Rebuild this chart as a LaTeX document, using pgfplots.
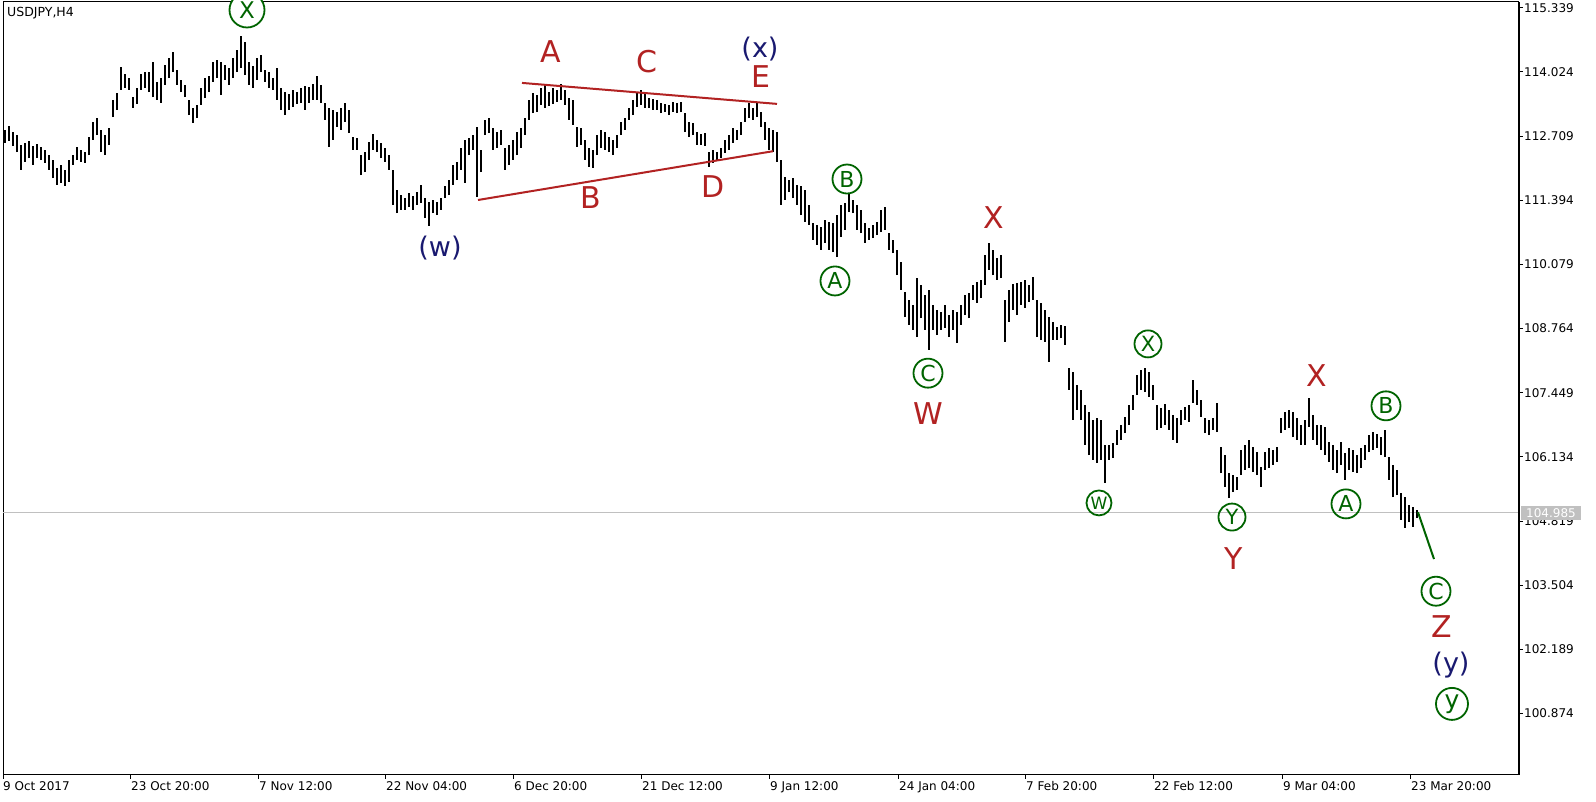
\documentclass[border=0pt]{standalone}
\usepackage{pgfplots}
\usepackage{pgfplotstable}
\pgfplotsset{compat=1.18}
\usetikzlibrary{backgrounds}
\usepackage{fontspec}
\setmainfont{DejaVu Sans}
\definecolor{wred}{RGB}{178,34,34}
\definecolor{wnavy}{RGB}{25,25,112}
\definecolor{wgreen}{RGB}{0,100,0}
\definecolor{pricegray}{RGB}{192,192,192}
\newcommand\tickfont{\fontsize{12}{14}\selectfont}
\newcommand\redfont{\fontsize{30}{30}\selectfont}
\newcommand\navyfont{\fontsize{27}{27}\selectfont}
\tikzset{
  circ/.style={circle, draw=wgreen, line width=1.8pt, text=wgreen, inner sep=0pt, minimum size=#1},
  rl/.style={text=wred, font=\redfont, inner sep=0pt},
  nl/.style={text=wnavy, font=\navyfont, inner sep=0pt},
}
\pgfplotstableread{
n lo hi
1 112.57 112.84
3 112.61 112.92
5 112.51 112.79
7 112.38 112.73
9 112.02 112.53
11 112.18 112.57
13 112.26 112.61
15 112.12 112.51
17 112.26 112.55
19 112.22 112.49
21 112.16 112.43
23 112.02 112.32
25 111.85 112.22
27 111.71 112.06
29 111.75 112.12
31 111.69 112.02
33 111.77 112.22
35 112.12 112.32
37 112.22 112.49
39 112.18 112.43
41 112.16 112.38
43 112.32 112.69
45 112.63 113.00
47 112.73 113.08
49 112.38 112.84
51 112.32 112.73
53 112.53 112.88
55 113.10 113.45
57 113.25 113.59
59 113.66 114.13
61 113.70 113.98
63 113.66 113.90
65 113.29 113.51
67 113.37 113.70
69 113.66 113.98
71 113.70 114.02
73 113.61 114.02
75 113.51 114.23
77 113.45 113.82
79 113.39 113.90
81 113.76 114.17
83 113.90 114.31
85 114.02 114.43
87 113.76 114.07
89 113.61 113.86
91 113.51 113.76
93 113.14 113.45
95 112.98 113.29
97 113.08 113.35
99 113.35 113.70
101 113.49 113.90
103 113.61 113.94
105 113.82 114.23
107 113.90 114.27
109 113.55 114.23
111 113.86 114.17
113 113.76 114.11
115 113.90 114.31
117 114.02 114.48
119 114.11 114.76
121 113.96 114.64
123 113.76 114.23
125 113.70 114.15
127 113.86 114.31
129 114.02 114.37
131 113.82 114.07
133 113.70 114.02
135 113.66 113.90
137 113.45 114.11
139 113.25 113.70
141 113.14 113.61
143 113.25 113.57
145 113.31 113.66
147 113.37 113.61
149 113.39 113.70
151 113.25 113.74
153 113.39 113.72
155 113.45 113.78
157 113.45 113.94
159 113.39 113.76
161 113.04 113.39
163 112.49 113.29
165 112.63 113.25
167 112.90 113.20
169 112.84 113.29
171 113.00 113.39
173 112.77 113.25
175 112.43 112.69
177 112.43 112.67
179 111.91 112.32
181 111.97 112.38
183 112.22 112.59
185 112.43 112.75
187 112.38 112.63
189 112.26 112.57
191 112.18 112.47
193 112.02 112.32
195 111.30 112.02
197 111.13 111.61
199 111.20 111.50
201 111.20 111.44
203 111.26 111.54
205 111.20 111.48
207 111.30 111.56
209 111.34 111.71
211 111.03 111.44
213 110.87 111.36
215 111.13 111.40
217 111.09 111.36
219 111.20 111.44
221 111.44 111.69
223 111.50 111.81
225 111.71 112.12
227 111.81 112.18
229 112.02 112.47
231 111.75 112.63
233 112.32 112.67
235 112.43 112.73
237 111.46 112.90
239 111.97 112.43
241 112.73 113.04
243 112.77 113.08
245 112.43 112.88
247 112.47 112.79
249 112.53 112.84
251 112.02 112.47
253 112.12 112.53
255 112.22 112.63
257 112.32 112.79
259 112.47 112.88
261 112.73 113.08
263 113.04 113.45
265 113.18 113.59
267 113.20 113.55
269 113.35 113.70
271 113.29 113.76
273 113.33 113.61
275 113.37 113.70
277 113.41 113.66
279 113.45 113.78
281 113.35 113.66
283 113.04 113.49
285 112.94 113.45
287 112.49 112.90
289 112.53 112.88
291 112.22 112.63
293 112.08 112.47
295 112.06 112.43
297 112.32 112.73
299 112.47 112.84
301 112.43 112.79
303 112.38 112.69
305 112.32 112.63
307 112.47 112.73
309 112.73 113.00
311 112.84 113.08
313 113.04 113.29
315 113.14 113.45
317 113.31 113.59
319 113.35 113.66
321 113.29 113.57
323 113.29 113.49
325 113.25 113.47
327 113.25 113.45
329 113.18 113.39
331 113.20 113.37
333 113.14 113.35
335 113.20 113.41
337 113.18 113.39
339 113.20 113.41
341 112.79 113.18
343 112.69 113.00
345 112.73 112.98
347 112.53 112.79
349 112.53 112.75
351 112.51 112.77
353 112.08 112.38
355 112.16 112.43
357 112.22 112.38
359 112.26 112.47
361 112.36 112.63
363 112.43 112.73
365 112.57 112.88
367 112.63 112.84
369 112.73 113.00
371 113.00 113.29
373 113.08 113.39
375 113.04 113.29
377 113.10 113.41
379 112.90 113.20
381 112.63 113.00
383 112.43 112.88
385 112.38 112.84
387 112.18 112.79
389 111.30 112.22
391 111.40 111.87
393 111.56 111.81
395 111.44 111.85
397 111.30 111.71
399 111.09 111.69
401 110.95 111.61
403 110.89 111.30
405 110.58 110.93
407 110.48 110.89
409 110.38 110.85
411 110.52 110.99
413 110.38 110.95
415 110.33 110.93
417 110.23 111.09
419 110.64 111.30
421 110.79 111.34
423 111.15 111.54
425 111.13 111.40
427 110.79 111.30
429 110.72 111.20
431 110.52 110.93
433 110.58 110.83
435 110.62 110.89
437 110.68 110.95
439 110.74 111.20
441 110.79 111.26
443 110.38 110.72
445 110.31 110.58
447 109.86 110.38
449 109.56 110.13
451 109.00 109.51
453 108.84 109.35
455 108.74 109.25
457 108.59 109.80
459 108.98 109.66
461 108.74 109.45
463 108.33 109.56
465 108.74 109.25
467 108.63 109.15
469 108.74 109.10
471 108.78 109.25
473 108.59 109.04
475 108.74 109.15
477 108.47 109.10
479 108.84 109.25
481 109.04 109.45
483 108.98 109.49
485 109.35 109.66
487 109.29 109.72
489 109.39 109.76
491 109.66 110.27
493 109.97 110.52
495 109.86 110.38
497 109.76 110.21
499 109.80 110.27
501 108.49 109.35
503 108.90 109.56
505 109.15 109.68
507 109.04 109.70
509 109.25 109.72
511 109.19 109.76
513 109.31 109.66
515 109.35 109.82
517 108.59 109.35
519 108.53 109.29
521 108.49 109.15
523 108.08 109.00
525 108.53 108.90
527 108.53 108.80
529 108.57 108.84
531 108.43 108.82
533 107.51 107.96
535 106.89 107.87
537 107.10 107.61
539 106.89 107.51
541 106.38 107.20
543 106.17 107.05
545 106.07 106.89
547 106.01 106.93
549 106.07 106.89
551 105.60 106.38
553 106.07 106.38
555 106.11 106.42
557 106.38 106.69
559 106.48 106.79
561 106.62 106.95
563 106.79 107.20
565 107.10 107.40
567 107.40 107.81
569 107.51 107.92
571 107.46 107.96
573 107.36 107.87
575 107.30 107.61
577 106.69 107.20
579 106.73 107.14
581 106.79 107.22
583 106.69 107.10
585 106.48 106.99
587 106.42 106.93
589 106.79 107.10
591 106.89 107.16
593 106.85 107.20
595 107.24 107.71
597 107.20 107.51
599 106.95 107.30
601 106.62 106.93
603 106.58 106.89
605 106.69 106.93
607 106.64 107.24
609 105.80 106.34
611 105.52 106.17
613 105.29 105.80
615 105.41 105.76
617 105.46 105.72
619 105.76 106.28
621 105.87 106.38
623 105.91 106.48
625 105.82 106.34
627 105.76 106.23
629 105.52 105.93
631 105.87 106.23
633 105.91 106.32
635 105.97 106.28
637 106.03 106.34
639 106.62 106.93
641 106.69 107.05
643 106.73 107.10
645 106.54 107.05
647 106.48 106.93
649 106.38 106.79
651 106.38 106.89
653 106.75 107.34
655 106.48 106.99
657 106.38 106.79
659 106.28 106.79
661 106.17 106.75
663 106.03 106.44
665 105.87 106.38
667 105.80 106.28
669 105.97 106.44
671 105.66 106.21
673 105.87 106.32
675 105.82 106.28
677 105.80 106.17
679 105.91 106.32
681 106.07 106.38
683 106.23 106.58
685 106.28 106.64
687 106.32 106.60
689 106.17 106.54
691 106.13 106.69
693 105.66 106.13
695 105.31 105.97
697 105.35 105.87
699 104.84 105.39
701 104.68 105.31
703 104.80 105.15
705 104.70 105.11
707 104.88 105.05
}\bars
\begin{document}
\begin{tikzpicture}[x=1pt,y=1pt]
\begin{axis}[
  name=ax, scale only axis,
  width=1516pt, height=773pt,
  xmin=0, xmax=758, ymin=99.6125, ymax=115.459,
  clip=false,
  axis line style={line width=1pt, black},
  xtick={0,64,128,191.5,255.5,319.5,383.5,448,511.5,575.5,640,704},
  xticklabels={9 Oct 2017,23 Oct 20:00,7 Nov 12:00,22 Nov 04:00,6 Dec 20:00,21 Dec 12:00,9 Jan 12:00,24 Jan 04:00,7 Feb 20:00,22 Feb 12:00,9 Mar 04:00,23 Mar 20:00},
  ytick={100.874,102.189,103.504,104.819,106.134,107.449,108.764,110.079,111.394,112.709,114.024,115.339},
  yticklabels={100.874,102.189,103.504,104.819,106.134,107.449,108.764,110.079,111.394,112.709,114.024,115.339},
  xtick pos=lower, ytick pos=right, yticklabel pos=right,
  tick align=outside, major tick length=4pt,
  tick style={black, line width=1pt},
  ticklabel style={font=\tickfont},
  xticklabel style={anchor=north west, inner sep=0pt, xshift=0pt, yshift=-2pt},
  yticklabel style={anchor=west, inner sep=0pt, xshift=1pt},
]
\addplot[pricegray, line width=1pt] coordinates {(0,104.985) (758,104.985)};
\addplot[draw=none, mark=none, error bars/.cd, y dir=plus, y explicit, error mark=none,
  error bar style={draw=black, solid, line width=1.2pt}]
  table[x=n, y=lo, y error expr=\thisrow{hi}-\thisrow{lo}] {\bars};
\addplot[wred, line width=2pt] coordinates {(259.5,113.80) (387,113.37)};
\addplot[wred, line width=2pt] coordinates {(237.5,111.40) (385,112.40)};
\addplot[wgreen, line width=2pt] coordinates {(707.5,105.00) (715.5,104.04)};
\draw[line width=2pt, black] (rel axis cs:1,0) -- (rel axis cs:1,1);
% labels
\node[circ=35pt, fill=white, font=\fontsize{23}{23}\selectfont] at (axis cs:122,115.295) {X};
\node[nl] at (axis cs:218.5,110.42) {(w)};
\node[rl] at (axis cs:274,114.45) {A};
\node[rl] at (axis cs:322,114.23) {C};
\node[nl] at (axis cs:378.5,114.50) {(x)};
\node[rl] at (axis cs:379,113.94) {E};
\node[rl] at (axis cs:294,111.44) {B};
\node[rl] at (axis cs:355,111.67) {D};
\node[circ=29pt, font=\fontsize{22}{22}\selectfont] at (axis cs:422,111.83) {B};
\node[circ=29pt, font=\fontsize{22}{22}\selectfont] at (axis cs:416,109.74) {A};
\node[circ=29pt, font=\fontsize{22}{22}\selectfont] at (axis cs:462.5,107.85) {C};
\node[rl] at (axis cs:462.5,107.03) {W};
\node[rl] at (axis cs:495.5,111.03) {X};
\node[circ=27pt, font=\fontsize{21}{21}\selectfont] at (axis cs:572.5,108.45) {X};
\node[circ=25pt, font=\fontsize{17}{17}\selectfont] at (axis cs:548,105.19) {W};
\node[circ=27pt, font=\fontsize{21}{21}\selectfont] at (axis cs:614.5,104.90) {Y};
\node[rl] at (axis cs:615.5,104.04) {Y};
\node[rl] at (axis cs:657,107.81) {X};
\node[circ=29pt, font=\fontsize{22}{22}\selectfont] at (axis cs:691.5,107.18) {B};
\node[circ=29pt, font=\fontsize{22}{22}\selectfont] at (axis cs:671.5,105.17) {A};
\node[circ=29pt, font=\fontsize{22}{22}\selectfont] at (axis cs:716.5,103.38) {C};
\node[rl] at (axis cs:719.5,102.65) {Z};
\node[nl] at (axis cs:724,101.87) {(y)};
\node[circ=32pt, font=\fontsize{25}{25}\selectfont] at (axis cs:724.5,101.07) {y};
\node[anchor=west, fill=pricegray, text=white, font=\tickfont, inner xsep=5pt, inner ysep=2.5pt, xshift=2pt] at (axis cs:758,104.985) {104.985};
\end{axis}
\node[anchor=west, inner sep=0pt, font=\fontsize{12.5}{14}\selectfont] at ([shift={(4pt,-11pt)}]ax.north west) {USDJPY,H4};
\begin{scope}[on background layer]
\fill[white] ([shift={(-3pt,-27pt)}]ax.south west) rectangle ++(1596pt,802pt);
\end{scope}
\pgfresetboundingbox
\path[use as bounding box] ([shift={(-3pt,-27pt)}]ax.south west) rectangle ++(1596pt,802pt);
\end{tikzpicture}
\end{document}
